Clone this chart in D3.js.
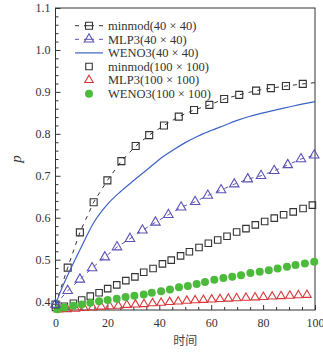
<!DOCTYPE html>
<html>
  <head>
    <meta charset="utf-8" />
    <style>
      body {
        margin: 0;
        background: white;
      }
      .tick text {
        font-family: 'Liberation Serif', serif;
        font-size: 12px;
        fill: #333;
      }
      .legend-text {
        font-family: 'Liberation Serif', serif;
        font-size: 12.5px;
        fill: #333;
      }
    </style>
  </head>
  <body>
    <script src="https://d3js.org/d3.v7.min.js"></script>
    <script>
      // minmod(40x40)
      const minmod40T = [0, 4.7, 9.4, 14.7, 20.0, 25.4, 30.9, 36.1, 41.8, 47.5, 53.4, 59.3, 65.0, 70.8, 77.3, 83.0, 88.8, 95.3, 100];
      const minmod40P = [0.393, 0.481, 0.565, 0.637, 0.689, 0.735, 0.771, 0.797, 0.820, 0.841, 0.857, 0.869, 0.883, 0.893, 0.903, 0.909, 0.914, 0.919, 0.922];
      // MLP3(40x40)
      const mlp40T = [0, 4.7, 9.4, 14.1, 19.0, 23.7, 28.7, 33.5, 38.5, 43.5, 48.4, 53.8, 58.7, 63.8, 68.9, 74.1, 79.2, 84.3, 89.5, 94.6, 99.7];
      const mlp40P = [0.393, 0.426, 0.453, 0.480, 0.506, 0.530, 0.550, 0.570, 0.589, 0.607, 0.625, 0.638, 0.653, 0.666, 0.680, 0.692, 0.700, 0.712, 0.726, 0.740, 0.749];
      // WENO3(40x40)
      const weno40T = [0, 2, 5, 10, 15, 20, 25, 30, 35, 40, 45, 50, 55, 60, 65, 70, 75, 80, 85, 90, 95, 100];
      const weno40P = [0.393, 0.425, 0.467, 0.531, 0.591, 0.632, 0.662, 0.688, 0.713, 0.739, 0.760, 0.779, 0.795, 0.808, 0.820, 0.832, 0.842, 0.850, 0.857, 0.864, 0.871, 0.877];
      // minmod(100x100)
      const minmod100T = [0, 3.4, 6.9, 10.1, 13.4, 16.8, 20.1, 23.6, 27.1, 30.6, 34.0, 37.6, 41.2, 44.6, 48.2, 51.6, 55.3, 58.9, 62.5, 66.1, 69.8, 73.4, 77.0, 80.6, 84.3, 87.9, 91.6, 95.4, 99.0];
      const minmod100P = [0.386, 0.389, 0.396, 0.404, 0.413, 0.421, 0.431, 0.440, 0.450, 0.459, 0.470, 0.479, 0.490, 0.499, 0.509, 0.519, 0.529, 0.539, 0.547, 0.556, 0.566, 0.574, 0.583, 0.591, 0.599, 0.607, 0.614, 0.622, 0.630];
      // MLP3(100x100)
      const mlp100T = [1.1, 4.4, 7.7, 11.0, 14.3, 17.6, 20.9, 24.2, 27.5, 30.8, 34.1, 37.4, 40.7, 44.0, 47.3, 50.6, 53.8, 57.0, 60.2, 63.4, 66.6, 69.8, 73.4, 76.9, 80.1, 83.5, 86.9, 90.3, 93.6, 96.9];
      const mlp100P = [0.381, 0.382, 0.383, 0.385, 0.386, 0.388, 0.389, 0.390, 0.392, 0.393, 0.394, 0.396, 0.397, 0.399, 0.400, 0.402, 0.403, 0.404, 0.405, 0.406, 0.407, 0.408, 0.409, 0.410, 0.411, 0.412, 0.413, 0.414, 0.415, 0.416];
      // WENO3(100x100)
      const weno100T = [0.8, 3.4, 6.9, 10.1, 13.4, 16.8, 20.1, 23.6, 27.0, 30.4, 34.0, 37.1, 40.7, 44.1, 47.6, 51.0, 54.4, 57.6, 61.2, 64.7, 68.1, 71.5, 75.1, 78.7, 82.2, 85.6, 89.2, 92.5, 96.1, 99.7];
      const weno100P = [0.382, 0.386, 0.390, 0.393, 0.397, 0.401, 0.404, 0.407, 0.411, 0.414, 0.417, 0.421, 0.425, 0.429, 0.434, 0.437, 0.442, 0.447, 0.452, 0.456, 0.459, 0.463, 0.468, 0.471, 0.475, 0.479, 0.483, 0.487, 0.491, 0.495];

      const xTicks = [0, 20, 40, 60, 80, 100];
      const yTicks = [0.4, 0.5, 0.6, 0.7, 0.8, 0.9, 1.0, 1.1];
      const legendLabels = [
        'minmod(40 × 40)',
        'MLP3(40 × 40)',
        'WENO3(40 × 40)',
        'minmod(100 × 100)',
        'MLP3(100 × 100)',
        'WENO3(100 × 100)',
      ];

      const zip = (ts, ps) => ts.map((t, i) => ({ t, p: ps[i] }));

      const svg = d3.select('body').append('svg').attr('width', 323).attr('height', 353);

      const xScale = d3.scaleLinear().domain([0, 100]).range([55.5, 315]);
      const yScale = d3.scaleLinear().domain([0.38, 1.1]).range([310, 8]);

      const black = '#333';
      const purple = '#5a52b4';
      const blue = '#3d63c6';
      const red = '#d8383a';
      const green = '#4cbb3c';

      // minor ticks
      const xMinor = d3.range(0, 101, 5).filter((d) => d % 20 !== 0);
      const yMinor = d3.range(38, 111, 2).map((d) => d / 100).filter((d) => Math.round(d * 100) % 10 !== 0);

      svg
        .append('g')
        .attr('transform', `translate(0,${yScale.range()[0]})`)
        .call(d3.axisBottom(xScale).tickValues(xMinor).tickSize(-3).tickFormat(''))
        .call((g) => g.select('.domain').remove())
        .call((g) => g.selectAll('line').attr('stroke', black));
      svg
        .append('g')
        .attr('transform', `translate(${xScale.range()[0]},0)`)
        .call(d3.axisLeft(yScale).tickValues(yMinor).tickSize(-3).tickFormat(''))
        .call((g) => g.select('.domain').remove())
        .call((g) => g.selectAll('line').attr('stroke', black));

      svg
        .append('g')
        .attr('transform', `translate(0,${yScale.range()[0]})`)
        .call(d3.axisBottom(xScale).tickValues(xTicks).tickSize(-5).tickPadding(8).tickFormat(d3.format('d')))
        .call((g) => g.select('.domain').remove())
        .call((g) => g.selectAll('line').attr('stroke', black));
      svg
        .append('g')
        .attr('transform', `translate(${xScale.range()[0]},0)`)
        .call(d3.axisLeft(yScale).tickValues(yTicks).tickSize(-5).tickPadding(5).tickFormat(d3.format('.1f')))
        .call((g) => g.select('.domain').remove())
        .call((g) => g.selectAll('line').attr('stroke', black));

      // frame
      svg
        .append('rect')
        .attr('x', xScale(0))
        .attr('y', yScale(1.1))
        .attr('width', xScale(100) - xScale(0))
        .attr('height', yScale(0.38) - yScale(1.1))
        .attr('fill', 'none')
        .attr('stroke', black)
        .attr('stroke-width', 1);

      // axis labels
      svg
        .append('text')
        .attr('transform', `translate(21,${(yScale(0.38) + yScale(1.1)) / 2}) rotate(-90)`)
        .attr('text-anchor', 'middle')
        .attr('font-family', 'Liberation Serif, serif')
        .attr('font-style', 'italic')
        .attr('font-size', 15)
        .attr('fill', black)
        .text('p');
      svg
        .append('text')
        .attr('x', (xScale(0) + xScale(100)) / 2)
        .attr('y', 345)
        .attr('text-anchor', 'middle')
        .attr('font-family', 'Noto Sans CJK SC, sans-serif')
        .attr('font-size', 12)
        .attr('fill', '#444')
        .text('时间');

      const line = d3
        .line()
        .x((d) => xScale(d.t))
        .y((d) => yScale(d.p));

      const sq = (s) => d3.symbol(d3.symbolSquare, s * s);
      const tri = (w) => d3.symbol(d3.symbolTriangle, (Math.sqrt(3) / 4) * w * w);
      const circ = (r) => d3.symbol(d3.symbolCircle, Math.PI * r * r);

      const plot = svg.append('g');

      function drawMarkers(data, symbol, stroke, fill) {
        plot
          .append('g')
          .selectAll('path')
          .data(data)
          .join('path')
          .attr('transform', (d) => `translate(${xScale(d.t)},${yScale(d.p)})`)
          .attr('d', symbol)
          .attr('fill', fill)
          .attr('stroke', stroke)
          .attr('stroke-width', 1.1);
      }

      // 100 x 100 series
      drawMarkers(zip(minmod100T, minmod100P), sq(6.5), black, 'none');
      drawMarkers(zip(mlp100T, mlp100P), tri(8.5), red, 'none');
      drawMarkers(zip(weno100T, weno100P), circ(4), 'none', green);

      // 40 x 40 series
      const minmod40 = zip(minmod40T, minmod40P);
      plot
        .append('path')
        .attr('d', line(minmod40))
        .attr('fill', 'none')
        .attr('stroke', black)
        .attr('stroke-width', 1)
        .attr('stroke-dasharray', '4,5');
      drawMarkers(minmod40.slice(0, -1), sq(7), black, 'none');

      const mlp40 = zip(mlp40T, mlp40P);
      plot
        .append('path')
        .attr('d', line(mlp40))
        .attr('fill', 'none')
        .attr('stroke', purple)
        .attr('stroke-width', 1)
        .attr('stroke-dasharray', '4,5');
      drawMarkers(mlp40, tri(9.5), purple, 'none');

      plot
        .append('path')
        .attr('d', line.curve(d3.curveMonotoneX)(zip(weno40T, weno40P)))
        .attr('fill', 'none')
        .attr('stroke', blue)
        .attr('stroke-width', 1.2);

      // legend
      const legendItems = [
        { line: 'dash', color: black, symbol: sq(7), fill: 'none' },
        { line: 'dash', color: purple, symbol: tri(9.5), fill: 'none' },
        { line: 'solid', color: blue, symbol: null, fill: 'none' },
        { line: null, color: black, symbol: sq(6.5), fill: 'none' },
        { line: null, color: red, symbol: tri(8.5), fill: 'none' },
        { line: null, color: green, symbol: circ(4), fill: green },
      ];

      const legend = svg
        .append('g')
        .selectAll('g')
        .data(legendItems)
        .join('g')
        .attr('transform', (d, i) => `translate(89,${25.7 + i * 13.6})`);

      legend
        .filter((d) => d.line === 'dash')
        .append('path')
        .attr('d', 'M-14,0H-10M-5,0H5M10,0H14')
        .attr('stroke', (d) => d.color)
        .attr('stroke-width', 1);
      legend
        .filter((d) => d.line === 'solid')
        .append('line')
        .attr('x1', -14)
        .attr('x2', 14)
        .attr('stroke', (d) => d.color)
        .attr('stroke-width', 1.2);
      legend
        .filter((d) => d.symbol)
        .append('path')
        .attr('d', (d) => d.symbol())
        .attr('fill', (d) => d.fill)
        .attr('stroke', (d) => (d.fill === 'none' ? d.color : 'none'))
        .attr('stroke-width', 1.1);
      legend
        .append('text')
        .attr('class', 'legend-text')
        .attr('x', 19)
        .attr('dy', '0.35em')
        .text((d, i) => legendLabels[i]);
    </script>
  </body>
</html>
